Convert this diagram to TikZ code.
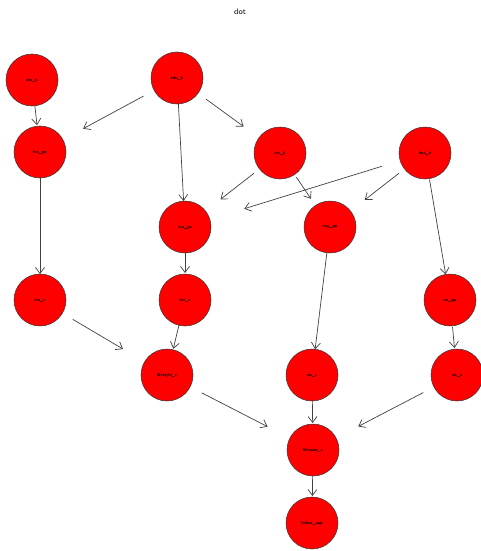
\documentclass[tikz,border=0pt]{standalone}
\usetikzlibrary{arrows.meta}
\begin{document}
\begin{tikzpicture}[x=1pt,y=-1pt,
  vnode/.style={circle,draw=black!80,line width=0.5pt,fill=red,minimum size=52pt,inner sep=0pt,outer sep=0pt,font=\fontsize{4.3}{5}\selectfont\sffamily\bfseries},
  edge/.style={draw=black!75,line width=0.7pt,-{Straight Barb[length=6pt,width=9pt]}}]
\useasboundingbox (0,0) rectangle (480,551);
\node[font=\fontsize{8}{9}\selectfont\sffamily] (title) at (240,12) {dot};
\node[vnode] (A) at (32,80) {sex\_b};
\node[vnode] (B) at (177,78) {edu\_b};
\node[vnode] (C) at (40,152) {lea\_pp};
\node[vnode] (D) at (280,153) {inc\_b};
\node[vnode] (E) at (425,153) {hea\_b};
\node[vnode] (F) at (185,227) {lea\_pp};
\node[vnode] (G) at (330,227) {veg\_pp};
\node[vnode] (H) at (40,300) {lea\_c};
\node[vnode] (I) at (185,300) {lea\_c};
\node[vnode] (J) at (450,300) {vis\_pp};
\node[vnode] (K) at (167,375) {lifestyle\_c};
\node[vnode] (L) at (312,375) {vis\_c};
\node[vnode] (M) at (457,375) {vis\_c};
\node[vnode] (N) at (313,450) {lifespan\_c};
\node[vnode] (O) at (312,523) {follow\_app};
\draw[edge,shorten >=1pt] (A) -- (C);
\draw[edge,shorten <=12pt,shorten >=23pt] (B) -- (C);
\draw[edge] (B) -- (F);
\draw[edge,shorten <=10pt,shorten >=19pt] (B) -- (D);
\draw[edge,shorten <=7pt,shorten >=19pt] (D) -- (F);
\draw[edge,shorten <=3pt,shorten >=8pt] (D) -- (G);
\draw[edge,shorten <=19pt,shorten >=36pt] (E) -- (F);
\draw[edge,shorten <=7pt,shorten >=18pt] (E) -- (G);
\draw[edge,shorten <=1pt] (E) -- (J);
\draw[edge] (C) -- (H);
\draw[edge,shorten >=1pt] (F) -- (I);
\draw[edge] (G) -- (L);
\draw[edge,shorten <=12pt,shorten >=25pt] (H) -- (K);
\draw[edge,shorten >=1pt] (I) -- (K);
\draw[edge,shorten <=1pt,shorten >=1pt] (J) -- (M);
\draw[edge,shorten <=13pt,shorten >=25pt] (K) -- (N);
\draw[edge,shorten >=1pt] (L) -- (N);
\draw[edge,shorten <=12pt,shorten >=25pt] (M) -- (N);
\draw[edge,shorten >=1pt] (N) -- (O);
\end{tikzpicture}
\end{document}
